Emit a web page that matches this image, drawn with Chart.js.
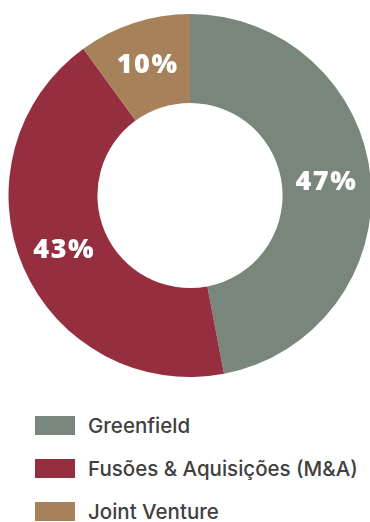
<!DOCTYPE html>
<html>
<head>
<meta charset="utf-8">
<script src="https://cdn.jsdelivr.net/npm/chart.js@4"></script>
<style>
  html, body { margin: 0; padding: 0; background: #fff; overflow: hidden; }
  body { width: 370px; height: 522px; position: relative; }
  #wrap { position: absolute; left: 0; top: 14px; width: 380px; height: 363px; }
  #legend { position: absolute; left: 35px; top: 416px; margin: 0; padding: 0; list-style: none;
            font-family: Inter, sans-serif; font-weight: 500; font-size: 20.5px; color: #404040; }
  #legend li { display: flex; align-items: center; height: 19px; margin-bottom: 24px; white-space: nowrap; }
  #legend span.box { display: inline-block; width: 40px; height: 19px; margin-right: 13px; }
</style>
</head>
<body>
<div id="wrap"><canvas id="entryChart"></canvas></div>
<ul id="legend"></ul>
<script>
// Market entry modes (share of operations, %)
const modes = ['Greenfield', 'Fusões & Aquisições (M&A)', 'Joint Venture'];
const shares = [47, 43, 10];
const colors = ['#78867b', '#952f40', '#a6815a'];

// Writes the percentage in the middle of each ring slice
const sliceLabels = {
    id: 'sliceLabels',
    afterDatasetsDraw(chart) {
        const ctx = chart.ctx;
        const meta = chart.getDatasetMeta(0);
        ctx.save();
        ctx.fillStyle = '#fff';
        ctx.font = '800 27px "Open Sans", sans-serif';
        ctx.letterSpacing = '1.5px';
        ctx.textAlign = 'center';
        ctx.textBaseline = 'middle';
        meta.data.forEach((arc, i) => {
            const p = arc.tooltipPosition();
            ctx.fillText(shares[i] + '%', p.x, p.y);
        });
        ctx.restore();
    }
};

const chart = new Chart(document.getElementById('entryChart'), {
    type: 'doughnut',
    data: {
        labels: modes,
        datasets: [{
            data: shares,
            backgroundColor: colors,
            borderWidth: 0
        }]
    },
    options: {
        responsive: true,
        maintainAspectRatio: false,
        animation: false,
        cutout: '51%',
        layout: { padding: 0 },
        plugins: {
            legend: { display: false },
            tooltip: { enabled: false }
        }
    },
    plugins: [sliceLabels]
});

// Legend list built from the chart's own label items
const list = document.getElementById('legend');
Chart.overrides.doughnut.plugins.legend.labels.generateLabels(chart).forEach(item => {
    const li = document.createElement('li');
    const box = document.createElement('span');
    box.className = 'box';
    box.style.background = item.fillStyle;
    li.appendChild(box);
    li.appendChild(document.createTextNode(item.text));
    list.appendChild(li);
});
</script>
</body>
</html>
